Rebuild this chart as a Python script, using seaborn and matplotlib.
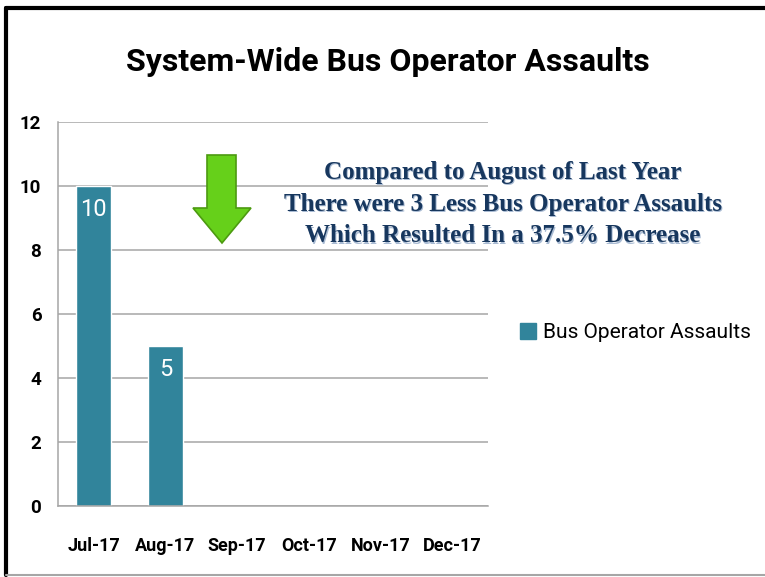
import numpy as np
import pandas as pd
import matplotlib
matplotlib.use("Agg")
import matplotlib.pyplot as plt
import seaborn as sns
from matplotlib.patches import Polygon
from matplotlib.lines import Line2D

months = ["Jul-17", "Aug-17", "Sep-17", "Oct-17", "Nov-17", "Dec-17"]
assaults = [10, 5, np.nan, np.nan, np.nan, np.nan]
y_ticks = [0, 2, 4, 6, 8, 10, 12]

df = pd.DataFrame({"month": months, "assaults": assaults})

sns.set_style("white")
plt.rcParams["font.family"] = ["Roboto", "DejaVu Sans"]

bar_color = "#31849B"
fig = plt.figure(figsize=(7.65, 5.77), dpi=100)
ax = fig.add_axes([58 / 765, 71 / 577, 430 / 765, 384 / 577])

sns.barplot(data=df, x="month", y="assaults", color=bar_color, width=0.49,
            saturation=1, ax=ax)

ax.set_ylim(0, 12)
ax.set_xlim(-0.5, 5.5)
ax.set_yticks(y_ticks)
ax.set_yticklabels([str(t) for t in y_ticks], fontsize=13.5,
                   fontweight="bold", color="black")
ax.set_xticklabels(months, fontsize=13, fontweight="bold", color="black")
ax.set_xlabel("")
ax.set_ylabel("")
ax.yaxis.grid(True, color="#A6A6A6", linewidth=1.1)
ax.set_axisbelow(True)
for s in ["top", "right"]:
    ax.spines[s].set_visible(False)
for s in ["left", "bottom"]:
    ax.spines[s].set_color("#A6A6A6")
    ax.spines[s].set_linewidth(1.1)
ax.tick_params(axis="y", length=6, color="#A6A6A6", pad=6)
ax.tick_params(axis="x", length=0, pad=22)
# tick marks between categories
ax.set_xticks(np.arange(-0.5, 6, 1), minor=True)
ax.tick_params(axis="x", which="minor", length=8, color="#A6A6A6")

for c in ax.containers:
    labels = ["" if np.isnan(v) else f"{int(v)}" for v in c.datavalues]
    ax.bar_label(c, labels=labels, label_type="edge", padding=-25,
                 color="white", fontsize=17)

fig.text(0.507, 0.893, "System-Wide Bus Operator Assaults", ha="center",
         va="center", fontsize=23, fontweight="bold", color="black")

note = ("Compared to August of Last Year\n"
        "There were 3 Less Bus Operator Assaults\n"
        "Which Resulted In a 37.5% Decrease")
for dx, dy, col in [(0.0015, -0.002, "#A9BBD3"), (0, 0, "#17375E")]:
    fig.text(0.657 + dx, 0.646 + dy, note, ha="center", va="center",
             fontsize=18, fontweight="bold", color=col,
             family=["Liberation Serif", "DejaVu Serif"], linespacing=1.48)

# green down arrow (figure pixel coords)
arrow_px = [(207, 155), (236, 155), (236, 208), (251, 208), (222, 243),
            (193, 208), (207, 208)]
arrow = Polygon([(x / 765, 1 - y / 577) for x, y in arrow_px], closed=True,
                transform=fig.transFigure, facecolor="#66D01A",
                edgecolor="#4C9A10", linewidth=1.2)
fig.patches.append(arrow)

handle = Line2D([], [], marker="s", linestyle="", markersize=11,
                markerfacecolor=bar_color, markeredgecolor=bar_color)
fig.legend([handle], ["Bus Operator Assaults"], loc="center left",
           bbox_to_anchor=(0.652, 0.423), frameon=False, fontsize=15,
           handletextpad=0.2, handlelength=1.0, labelcolor="black")

# slide border
fig.add_artist(Line2D([6 / 765, 6 / 765], [0.003, 1 - 8 / 577],
                      transform=fig.transFigure, color="black", linewidth=3))
fig.add_artist(Line2D([6 / 765, 1], [1 - 8 / 577, 1 - 8 / 577],
                      transform=fig.transFigure, color="black", linewidth=3))
fig.add_artist(Line2D([6 / 765, 1], [2 / 577, 2 / 577],
                      transform=fig.transFigure, color="#A6A6A6", linewidth=1.5))

fig.savefig("out.png", dpi=100)
